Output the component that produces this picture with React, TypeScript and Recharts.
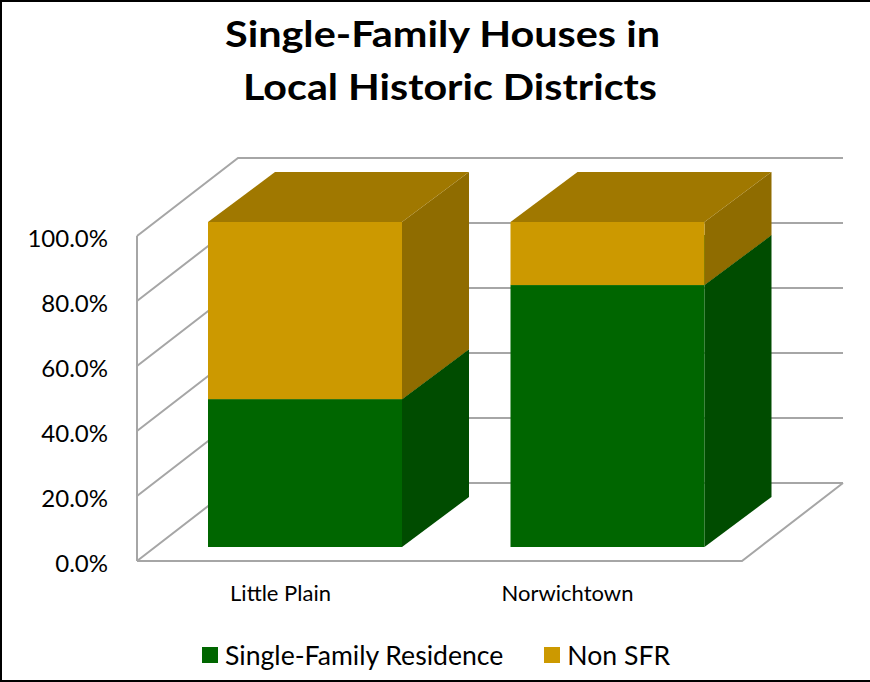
import React from 'react';
import { BarChart, Bar, XAxis, YAxis, CartesianGrid, Legend } from 'recharts';

const categories = ['Little Plain', 'Norwichtown'];
const sfrValues = [45.5, 80.6];
const nonSfrValues = [54.5, 19.4];
const yTicks = [0, 20, 40, 60, 80, 100];
const seriesNames = ['Single-Family Residence', 'Non SFR'];
const titleLines = ['Single-Family Houses in', 'Local Historic Districts'];

const data = categories.map((c, i) => ({ name: c, sfr: sfrValues[i], non: nonSfrValues[i] }));

const FONT = 'Lato, "Open Sans", sans-serif';
const GRID = '#a6a6a6';

// 3D geometry (depth offsets)
const BAR_DX = 67;
const BAR_DY = -50;

const makeShape = (front: string, side: string, top: string) => (props: any) => {
  const { x, y, width, height } = props;
  if (!height || height <= 0) return <g />;
  const sidePts = `${x + width},${y} ${x + width + BAR_DX},${y + BAR_DY} ${x + width + BAR_DX},${y + height + BAR_DY} ${x + width},${y + height}`;
  const topPts = `${x},${y} ${x + width},${y} ${x + width + BAR_DX},${y + BAR_DY} ${x + BAR_DX},${y + BAR_DY}`;
  return (
    <g>
      <polygon points={sidePts} fill={side} />
      <polygon points={topPts} fill={top} />
      <rect x={x} y={y} width={width} height={height} fill={front} />
    </g>
  );
};

const greenShape = makeShape('#006600', '#004c00', '#005500');
const goldShape = makeShape('#cc9900', '#8f6c00', '#a07800');

const gridLine = (props: any) => {
  const { x1, x2, y1, horizontalPoints, index } = props;
  const pts: number[] = horizontalPoints || [];
  const maxY = pts.length ? Math.max(...pts) : y1;
  const minY = pts.length ? Math.min(...pts) : y1;
  const fy = y1 + 14;
  const by = y1 - 64;
  let d = `M${x1},${fy} L${x1 + 101},${by} L${x2 + 84},${by}`;
  if (Math.abs(y1 - maxY) < 0.5) {
    d += ` M${x1},${fy} L${x2 - 17},${fy} L${x2 + 84},${by} M${x1},${fy} L${x1},${minY + 14}`;
  }
  return <path key={`g-${index}`} d={d} stroke={GRID} strokeWidth={2} fill="none" strokeLinejoin="miter" />;
};

const YTick = (props: any) => {
  const { x, y, payload } = props;
  return (
    <text x={x} y={y + 15} textAnchor="end" dominantBaseline="central" fontFamily={FONT} fontSize={24} fill="#000">
      {`${Number(payload.value).toFixed(1)}%`}
    </text>
  );
};

const XTick = (props: any) => {
  const { x, y, payload } = props;
  return (
    <text x={x} y={y + 7} textAnchor="middle" dominantBaseline="central" fontFamily={FONT} fontSize={22} fill="#000">
      {payload.value}
    </text>
  );
};

const LegendContent = (props: any) => {
  const items = [...(props.payload || [])].sort(
    (a: any, b: any) => seriesNames.indexOf(a.value) - seriesNames.indexOf(b.value)
  );
  return (
    <div style={{ display: 'flex', alignItems: 'center', fontFamily: FONT, fontSize: 26.6, color: '#000' }}>
      {items.map((it: any, i: number) => (
        <div key={i} style={{ display: 'flex', alignItems: 'center', marginRight: i === 0 ? 41 : 0 }}>
          <div style={{ width: 16, height: 16, background: it.color, marginRight: 7 }} />
          <span style={{ lineHeight: '30px', whiteSpace: 'nowrap' }}>{it.value}</span>
        </div>
      ))}
    </div>
  );
};

export default function App() {
  return (
    <div style={{ position: 'absolute', left: 0, top: 0, width: 870, height: 682, background: '#fff' }}>
      <div
        style={{
          position: 'absolute', left: 0, top: 0, width: 870, height: 682, boxSizing: 'border-box',
          borderLeft: '2px solid #000', borderTop: '2px solid #000', borderBottom: '2px solid #000', pointerEvents: 'none', zIndex: 2,
        }}
      />
      <svg style={{ position: 'absolute', left: 0, top: 0 }} width={870} height={120}>
        <text x={442.5} y={47} textAnchor="middle" fontFamily={FONT} fontWeight={700} fontSize={37} textLength={435} lengthAdjust="spacingAndGlyphs" fill="#000">
          {titleLines[0]}
        </text>
        <text x={450} y={100} textAnchor="middle" fontFamily={FONT} fontWeight={700} fontSize={37} textLength={414} lengthAdjust="spacingAndGlyphs" fill="#000">
          {titleLines[1]}
        </text>
      </svg>
      <div style={{ position: 'absolute', left: 0, top: 0 }}>
        <BarChart width={870} height={682} data={data} margin={{ top: 222, right: 111, left: 0, bottom: 95 }}>
          <CartesianGrid xAxisId="bars" vertical={false} horizontal={gridLine} />
          <XAxis xAxisId="bars" dataKey="name" hide padding={{ left: 17, right: 0 }} />
          <XAxis xAxisId="labels" dataKey="name" height={40} axisLine={false} tickLine={false} padding={{ left: 0, right: 48 }} tick={XTick} interval={0} />
          <YAxis width={137} domain={[0, 100]} ticks={yTicks} axisLine={false} tickLine={false} tickMargin={23} tick={YTick} interval={0} />
          <Legend
            layout="horizontal"
            verticalAlign="middle"
            align="center"
            wrapperStyle={{ position: 'absolute', left: 202, top: 640, width: 'auto' }}
            content={LegendContent}
          />
          <Bar xAxisId="bars" dataKey="sfr" name={seriesNames[0]} stackId="a" fill="#006600" barSize={194} shape={greenShape} isAnimationActive={false} />
          <Bar xAxisId="bars" dataKey="non" name={seriesNames[1]} stackId="a" fill="#cc9900" barSize={194} shape={goldShape} isAnimationActive={false} />
        </BarChart>
      </div>
    </div>
  );
}
